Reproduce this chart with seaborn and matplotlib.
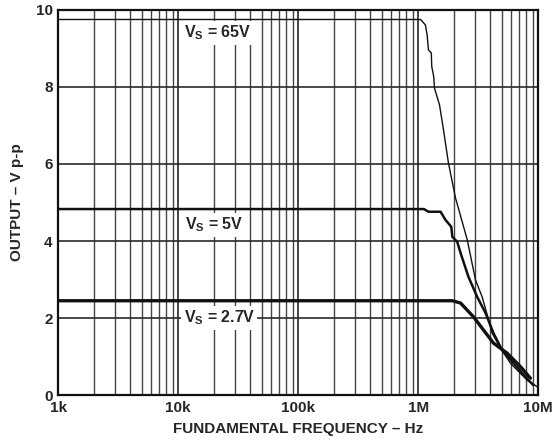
import numpy as np
import pandas as pd
import matplotlib
matplotlib.use("Agg")
import matplotlib.pyplot as plt
from matplotlib.ticker import FixedLocator, NullFormatter
import seaborn as sns

# output swing vs. frequency
freq_65v = [1e3, 1.05e6, 1.15e6, 1.19e6, 1.22e6, 1.29e6, 1.30e6, 1.35e6, 1.37e6, 1.51e6,
            1.63e6, 1.79e6, 2.05e6, 2.57e6, 3.01e6, 3.42e6, 3.81e6, 4.14e6, 4.86e6,
            5.88e6, 8.10e6, 9.82e6]
vout_65v = [9.75, 9.75, 9.61, 9.35, 8.96, 8.88, 8.53, 8.27, 7.97, 7.53,
            6.88, 6.03, 5.12, 4.03, 2.99, 2.55, 2.03, 1.61, 1.22,
            0.83, 0.39, 0.22]

freq_5v = [1e3, 1.12e6, 1.22e6, 1.54e6, 1.69e6, 1.89e6, 1.93e6, 2.12e6, 2.26e6, 2.63e6,
           3.11e6, 3.65e6, 4.25e6, 5.01e6, 6.23e6, 8.30e6, 9.14e6]
vout_5v = [4.83, 4.83, 4.76, 4.76, 4.55, 4.37, 4.11, 3.98, 3.69, 3.07,
           2.55, 2.13, 1.61, 1.17, 0.83, 0.39, 0.26]

freq_27v = [1e3, 1.93e6, 2.26e6, 2.90e6, 3.51e6, 4.25e6, 5.52e6, 7.13e6, 8.63e6]
vout_27v = [2.45, 2.45, 2.39, 2.03, 1.69, 1.35, 1.09, 0.74, 0.44]

x_ticks = [1e3, 1e4, 1e5, 1e6, 1e7]
x_tick_labels = ["1k", "10k", "100k", "1M", "10M"]
y_ticks = [0, 2, 4, 6, 8, 10]

sns.set_style("white")
plt.rcParams["font.family"] = ["Liberation Sans", "DejaVu Sans"]
plt.rcParams["font.weight"] = "bold"
plt.rcParams["mathtext.fontset"] = "custom"
plt.rcParams["mathtext.rm"] = "Liberation Sans:bold"
plt.rcParams["mathtext.bf"] = "Liberation Sans:bold"
plt.rcParams["mathtext.default"] = "bf"

fig = plt.figure(figsize=(5.53, 4.48), dpi=100)
ax = fig.add_axes([0.105, 0.118, 0.868, 0.86])
ax.set_xscale("log")

# grid first so curves sit on top
minor = [m * 10 ** d for d in range(3, 7) for m in range(2, 10)]
for xv in minor:
    ax.axvline(xv, color="#444444", lw=1.0, zorder=1)
for xv in x_ticks:
    ax.axvline(xv, color="#111111", lw=1.1, zorder=1)
for yv in [2, 4, 6, 8]:
    ax.axhline(yv, color="#2a2a2a", lw=1.2, zorder=1)

series = [
    (freq_65v, vout_65v, 1.0),
    (freq_5v, vout_5v, 1.8),
    (freq_27v, vout_27v, 2.4),
]
for f, v, lw in series:
    df = pd.DataFrame({"freq": f, "vout": v})
    sns.lineplot(data=df, x="freq", y="vout", ax=ax, color="#111111", lw=lw,
                 estimator=None, sort=False, zorder=3)

box = dict(facecolor="white", edgecolor="none", pad=2.0)
ax.text(2.15e4, 9.4, r"V$_S$ = 65V", ha="center", va="center", fontsize=11.5,
        fontweight="bold", bbox=box, zorder=4)
ax.text(2.0e4, 4.42, r"V$_S$ = 5V", ha="center", va="center", fontsize=11.5,
        fontweight="bold", bbox=box, zorder=4)
ax.text(2.2e4, 2.0, r"V$_S$ = 2.7V", ha="center", va="center", fontsize=11.5,
        fontweight="bold", bbox=box, zorder=4)

ax.set_xlim(1e3, 1e7)
ax.set_ylim(0, 10)
ax.xaxis.set_major_locator(FixedLocator(x_ticks))
ax.set_xticklabels(x_tick_labels)
ax.xaxis.set_minor_formatter(NullFormatter())
ax.set_yticks(y_ticks)
ax.tick_params(axis="both", which="both", length=0, labelsize=11, pad=4)
for lab in ax.get_xticklabels() + ax.get_yticklabels():
    lab.set_fontweight("bold")

ax.set_xlabel("FUNDAMENTAL FREQUENCY – Hz", fontsize=11, fontweight="bold", labelpad=5)
ax.set_ylabel("OUTPUT – V p-p", fontsize=11, fontweight="bold", labelpad=8)

for sp in ax.spines.values():
    sp.set_visible(True)
    sp.set_color("#111111")
    sp.set_linewidth(1.6)
    sp.set_zorder(5)

fig.savefig("out.png", dpi=100)
